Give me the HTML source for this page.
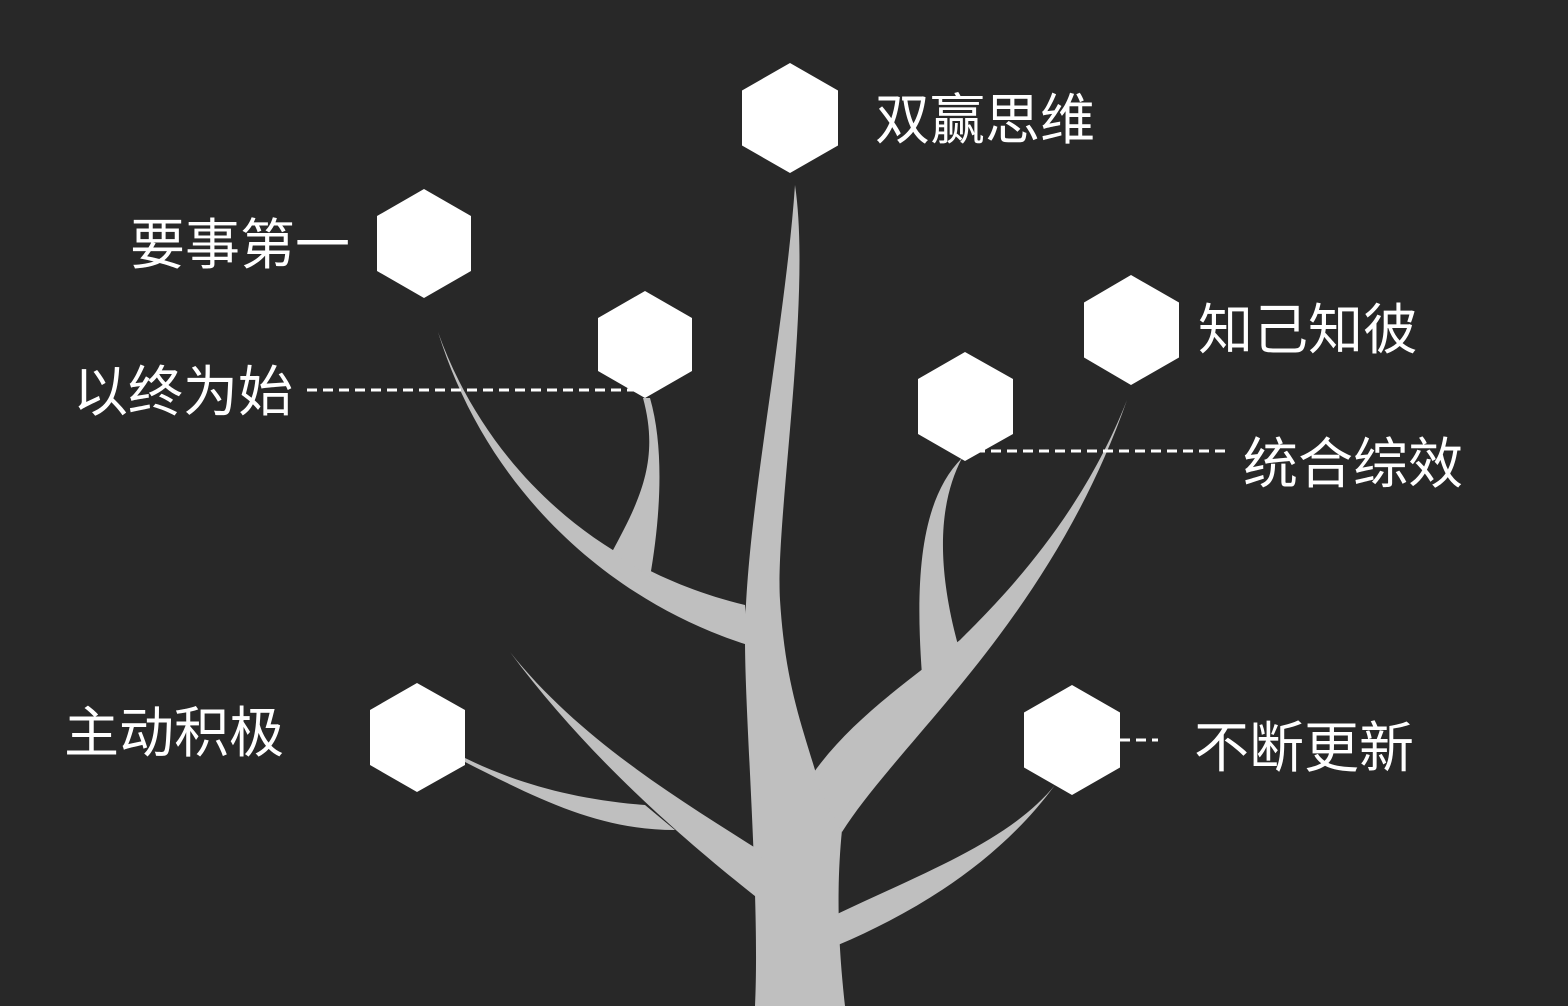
<!DOCTYPE html>
<html><head><meta charset="utf-8"><style>
html,body{margin:0;padding:0;background:#282828;}
svg{display:block}
text{font-family:"Liberation Sans","Noto Sans CJK SC",sans-serif;font-size:55px;fill:#fff;dominant-baseline:central}
</style></head><body>
<svg width="1568" height="1006" viewBox="0 0 1568 1006">
<rect width="1568" height="1006" fill="#282828"/>
<g fill="#bfbfbf">
<path d="M755,1006 C760,900 745,720 745,640 C745,520 785,330 795,185 C812,300 775,520 780,600 C785,680 800,720 815,770 L842,830 C835,900 840,960 845,1006 Z"/>
<path d="M812,775 C850,720 910,680 960,640 C1000,600 1080,520 1127,400 C1050,620 900,740 842,832 Z"/>
<path d="M922,675 C915,580 920,500 962,458 C940,500 935,560 958,645 Z"/>
<path d="M748,645 C620,605 490,500 438,332 C480,450 580,565 745,605 Z"/>
<path d="M612,552 C640,500 660,460 643,398 L650,398 C665,450 660,520 650,577 Z"/>
<path d="M510,652 C580,740 680,800 762,852 L760,900 C690,845 590,760 510,652 Z"/>
<path d="M465,762 C540,800 600,830 675,830 L645,805 C580,800 520,785 465,758 Z"/>
<path d="M835,915 C930,870 1010,840 1055,785 C1000,860 920,910 838,945 Z"/>
</g>
<g fill="#fff">
<polygon points="790,63 838,90.5 838,145.5 790,173 742,145.5 742,90.5"/>
<polygon points="424,189 471,216 471,271 424,298 377,271 377,216"/>
<polygon points="645,291 692,318 692,371 645,398 598,371 598,318"/>
<polygon points="1131,275 1179,302.5 1179,357.5 1131,385 1084,357.5 1084,302.5"/>
<polygon points="965,352 1013,379 1013,434 965,461 918,434 918,379"/>
<polygon points="417,683 465,710 465,765 417,792 370,765 370,710"/>
<polygon points="1072,685 1120,712.5 1120,767.5 1072,795 1024,767.5 1024,712.5"/>
</g>
<g stroke="#fff" stroke-width="3" stroke-dasharray="10,6">
<line x1="307" y1="390" x2="640" y2="390"/>
<line x1="975" y1="451" x2="1227" y2="451"/>
<line x1="1120" y1="740" x2="1158" y2="740"/>
</g>
<text x="875" y="120">双赢思维</text>
<text x="130" y="245">要事第一</text>
<text x="73" y="392">以终为始</text>
<text x="1198" y="330">知己知彼</text>
<text x="1243" y="464">统合综效</text>
<text x="64" y="733">主动积极</text>
<text x="1194" y="748">不断更新</text>
</svg>
</body></html>
